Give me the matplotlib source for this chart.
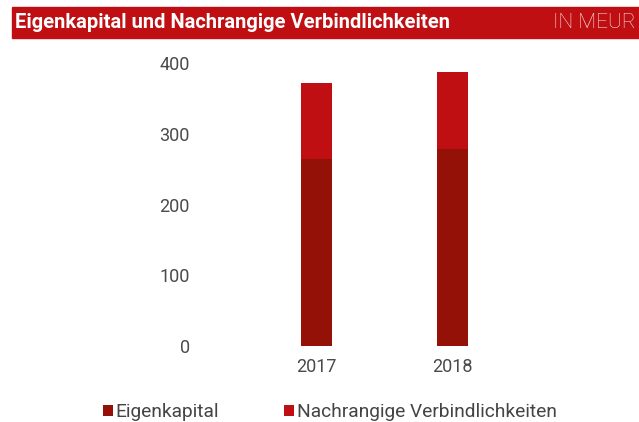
import matplotlib.pyplot as plt
from matplotlib.patches import Rectangle

years = ['2017', '2018']
eigenkapital = [264, 278]
nachrangig = [108, 109]
labels = ['Eigenkapital', 'Nachrangige Verbindlichkeiten']
colors = ['#941107', '#C00F12']

plt.rcParams['font.family'] = ['Roboto', 'DejaVu Sans']

fig = plt.figure(figsize=(6.39, 4.22), dpi=100)
W, H = 639, 422

# title band
fig.patches.append(Rectangle((12 / W, 1 - 38 / H), 1 - 12 / W, 31 / H,
                             transform=fig.transFigure, color='#C00F12', zorder=0))
fig.text(15 / W, 1 - 22.5 / H, 'Eigenkapital und Nachrangige Verbindlichkeiten',
         color='white', fontsize=14.5, fontweight='bold', va='center', ha='left')
fig.text(553 / W, 1 - 22.5 / H, 'IN MEUR', color='#F6E0E0', fontsize=15,
         fontweight='light', va='center', ha='left')

ax = fig.add_axes([205 / W, 1 - 346 / H, 370 / W, 283 / H])
x = range(len(years))
ax.bar(x, eigenkapital, width=0.228, color=colors[0], label=labels[0])
ax.bar(x, nachrangig, width=0.228, bottom=eigenkapital, color=colors[1], label=labels[1])

ax.set_xlim(-0.82, 1.9)
ax.set_ylim(0, 400)
ax.set_yticks([0, 100, 200, 300, 400])
ax.set_xticks(list(x))
ax.set_xticklabels(years)
for s in ax.spines.values():
    s.set_visible(False)
ax.tick_params(length=0, labelsize=13, labelcolor='#4a4a4a')
ax.tick_params(axis='y', pad=11)
ax.tick_params(axis='x', pad=9)

leg = fig.legend(loc='center left', bbox_to_anchor=(86 / W, 1 - 412 / H), ncol=2,
                 frameon=False, handlelength=0.5, handleheight=0.5, handletextpad=0.15,
                 columnspacing=3.4, prop={'size': 13.8})
for t in leg.get_texts():
    t.set_color('#444444')

fig.savefig('out.png', dpi=100)
